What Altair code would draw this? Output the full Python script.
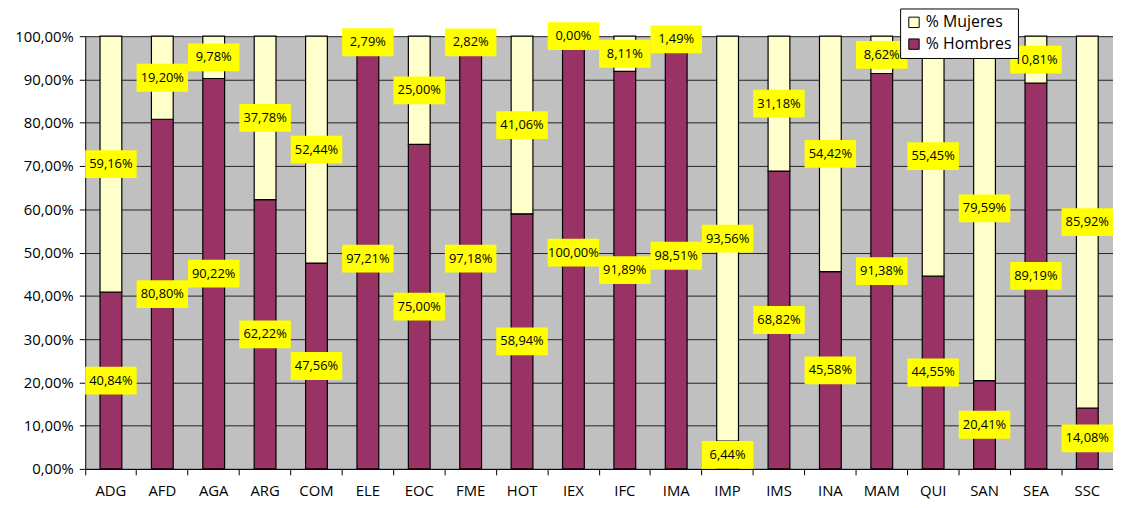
import altair as alt
import pandas as pd

categories = ["ADG", "AFD", "AGA", "ARG", "COM", "ELE", "EOC", "FME", "HOT", "IEX",
              "IFC", "IMA", "IMP", "IMS", "INA", "MAM", "QUI", "SAN", "SEA", "SSC"]
hombres = [40.84, 80.80, 90.22, 62.22, 47.56, 97.21, 75.00, 97.18, 58.94, 100.00,
           91.89, 98.51, 6.44, 68.82, 45.58, 91.38, 44.55, 20.41, 89.19, 14.08]
mujeres = [59.16, 19.20, 9.78, 37.78, 52.44, 2.79, 25.00, 2.82, 41.06, 0.00,
           8.11, 1.49, 93.56, 31.18, 54.42, 8.62, 55.45, 79.59, 10.81, 85.92]

series = ["% Mujeres", "% Hombres"]
colors = ["#FFFFCC", "#993366"]

rows = []
for c, h, m in zip(categories, hombres, mujeres):
    rows.append({"cat": c, "serie": "% Hombres", "ord": 0, "v": h / 100,
                 "y0": 0, "y1": h / 100, "mid": h / 200,
                 "lab": f"{h:.2f}%".replace(".", ",")})
    rows.append({"cat": c, "serie": "% Mujeres", "ord": 1, "v": m / 100,
                 "y0": h / 100, "y1": (h + m) / 100, "mid": (h + (h + m)) / 200,
                 "lab": f"{m:.2f}%".replace(".", ",")})
df = pd.DataFrame(rows)

FONT = "Open Sans"

xenc = alt.X("cat:N", sort=categories, title=None,
             scale=alt.Scale(paddingInner=0, paddingOuter=0),
             axis=alt.Axis(labelAngle=0, labelFontSize=15, labelColor="#000",
                           labelFont=FONT, labelPadding=9, tickSize=6,
                           tickColor="#000", domainColor="#000", bandPosition=0,
                           ticks=True, grid=False))

bars = alt.Chart(df).mark_bar(size=22, stroke="#000", strokeWidth=1.2).encode(
    x=xenc,
    y=alt.Y("y0:Q", title=None,
            scale=alt.Scale(domain=[0, 1], nice=False),
            axis=alt.Axis(values=[i / 10 for i in range(11)],
                          labelExpr="replace(format(datum.value, '.2%'), '.', ',')",
                          labelFontSize=15, labelFont=FONT, labelColor="#000",
                          tickSize=6, tickColor="#000", domainColor="#000",
                          gridColor="#222", gridWidth=1, grid=True, labelPadding=6)),
    y2="y1:Q",
    color=alt.Color("serie:N", scale=alt.Scale(domain=series, range=colors),
                    title=None,
                    legend=alt.Legend(orient="none", legendX=823, legendY=-28,
                                      fillColor="#fff", strokeColor="#000",
                                      padding=6, symbolType="square",
                                      symbolSize=110, symbolStrokeColor="#000",
                                      symbolStrokeWidth=1, labelFontSize=16,
                                      labelFont=FONT, labelColor="#000",
                                      rowPadding=6, symbolOffset=0)),
)

boxes = alt.Chart(df).mark_point(
    shape="M-1,-0.54L1,-0.54L1,0.54L-1,0.54Z", filled=True, opacity=1,
    color="#FFFF00", size=2704, strokeWidth=0
).encode(x=alt.X("cat:N", sort=categories), y="mid:Q")

texts = alt.Chart(df).mark_text(fontSize=13, font=FONT, color="#000").encode(
    x=alt.X("cat:N", sort=categories), y="mid:Q", text="lab:N")

chart = alt.layer(bars, boxes, texts).properties(
    width=1038, height=437,
    autosize=alt.AutoSizeParams(type="none"),
    padding={"left": 78, "top": 26, "right": 0, "bottom": 36},
).configure_view(fill="#C0C0C0", stroke=None)

chart.save("out.html", embed_options={"renderer": "svg", "actions": False})
